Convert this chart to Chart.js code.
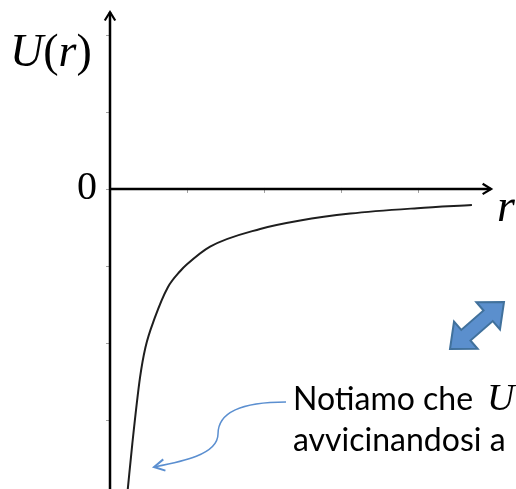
<!DOCTYPE html>
<html lang="en">
<head>
    <meta charset="UTF-8">
    <title>U(r)</title>
    <script src="https://cdn.jsdelivr.net/npm/chart.js"></script>
    <style>
        body {
            margin: 0;
            background: #ffffff;
            overflow: hidden;
        }
        .wrap {
            position: relative;
            width: 516px;
            height: 489px;
            overflow: hidden;
        }
        #potChart {
            position: absolute;
            left: 0;
            top: 0;
        }
        .lbl {
            position: absolute;
            line-height: 1;
            white-space: nowrap;
            color: #000;
        }
        .math {
            font-family: "Liberation Serif", "Times New Roman", serif;
        }
        .note {
            font-family: Lato, "Open Sans", sans-serif;
            font-size: 32px;
        }
        i { font-style: italic; }
    </style>
</head>
<body>
<div class="wrap">
    <canvas id="potChart" width="516" height="489"></canvas>
    <div class="lbl math" style="left:10px; top:28px; font-size:46px;"><i>U</i>(<i>r</i>)</div>
    <div class="lbl math" style="left:77px; top:166px; font-size:40px;">0</div>
    <div class="lbl math" style="left:497px; top:183px; font-size:46px;"><i>r</i></div>
    <div class="lbl note" style="left:293px; top:378px;">Notiamo che<i class="math" style="font-size:38px; line-height:1; margin-left:14px;">U</i></div>
    <div class="lbl note" style="left:293px; top:423px;">avvicinandosi a</div>
</div>

<script>
    // distance r and potential energy U(r), in axis tick units
    var rValues = [0.23, 0.29, 0.39, 0.46, 0.58, 0.75, 0.91, 1.0, 1.3, 1.95, 2.47, 3.12, 3.99, 4.7];
    var uValues = [-3.91, -3.31, -2.45, -2.06, -1.68, -1.28, -1.07, -0.98, -0.75, -0.52, -0.41, -0.32, -0.25, -0.21];

    var xTicks = [1, 2, 3, 4];
    var yTicks = [2, 1, 0, -1, -2, -3];

    var points = rValues.map(function (r, i) { return { x: r, y: uValues[i] }; });

    function chevron(ctx, tipX, tipY, ang, len, spread) {
        ctx.beginPath();
        ctx.moveTo(tipX - len * Math.cos(ang - spread), tipY - len * Math.sin(ang - spread));
        ctx.lineTo(tipX, tipY);
        ctx.lineTo(tipX - len * Math.cos(ang + spread), tipY - len * Math.sin(ang + spread));
        ctx.stroke();
    }

    // axes through the origin, with arrows and small tick marks
    var axesPlugin = {
        id: 'axes',
        beforeDatasetsDraw: function (chart) {
            var ctx = chart.ctx;
            var xs = chart.scales.x, ys = chart.scales.y;
            var x0 = xs.getPixelForValue(0), y0 = ys.getPixelForValue(0);
            var xEnd = xs.getPixelForValue(4.95);
            var yTop = ys.getPixelForValue(2.3);
            var yBot = chart.height;
            ctx.save();

            ctx.strokeStyle = '#a0a0a0';
            ctx.lineWidth = 1;
            xTicks.forEach(function (t) {
                var px = Math.round(xs.getPixelForValue(t)) + 0.5;
                ctx.beginPath();
                ctx.moveTo(px, y0 - 1);
                ctx.lineTo(px, y0 + 4);
                ctx.stroke();
            });
            yTicks.forEach(function (t) {
                var py = Math.round(ys.getPixelForValue(t)) + 0.5;
                ctx.beginPath();
                ctx.moveTo(x0 - 4, py);
                ctx.lineTo(x0 + 1, py);
                ctx.stroke();
            });

            ctx.strokeStyle = '#000';
            ctx.lineWidth = 2.5;
            ctx.lineCap = 'butt';
            ctx.beginPath();
            ctx.moveTo(x0, yBot);
            ctx.lineTo(x0, yTop);
            ctx.moveTo(x0, y0);
            ctx.lineTo(xEnd, y0);
            ctx.stroke();

            ctx.lineWidth = 2.2;
            ctx.lineJoin = 'miter';
            chevron(ctx, x0, yTop, -Math.PI / 2, 10, 0.55);
            chevron(ctx, xEnd, y0, 0, 10, 0.55);
            ctx.restore();
        },
        afterDatasetsDraw: function (chart) {
            var ctx = chart.ctx;
            ctx.save();

            // thin curved pointer
            ctx.strokeStyle = '#5b8fd0';
            ctx.lineWidth = 1.5;
            ctx.beginPath();
            ctx.moveTo(286, 402);
            ctx.bezierCurveTo(236, 402, 218, 415, 218, 434);
            ctx.bezierCurveTo(218, 455, 180, 462, 154, 467);
            ctx.stroke();
            ctx.lineWidth = 2;
            chevron(ctx, 154, 467, Math.atan2(5, -26), 12, 0.5);

            // double block arrow
            var ax = 450, ay = 349, bx = 504, by = 302;
            var L = Math.hypot(bx - ax, by - ay);
            var ang = Math.atan2(by - ay, bx - ax);
            var h = 21, hw = 18, sw = 7;
            ctx.translate(ax, ay);
            ctx.rotate(ang);
            ctx.beginPath();
            ctx.moveTo(0, 0);
            ctx.lineTo(h, -hw);
            ctx.lineTo(h, -sw);
            ctx.lineTo(L - h, -sw);
            ctx.lineTo(L - h, -hw);
            ctx.lineTo(L, 0);
            ctx.lineTo(L - h, hw);
            ctx.lineTo(L - h, sw);
            ctx.lineTo(h, sw);
            ctx.lineTo(h, hw);
            ctx.closePath();
            ctx.fillStyle = '#5b8fcd';
            ctx.fill();
            ctx.strokeStyle = '#41719c';
            ctx.lineWidth = 2;
            ctx.lineJoin = 'miter';
            ctx.stroke();
            ctx.restore();
        }
    };

    var ctx = document.getElementById('potChart').getContext('2d');
    var potChart = new Chart(ctx, {
        type: 'scatter',
        data: {
            datasets: [{
                label: 'U(r)',
                data: points,
                showLine: true,
                borderColor: '#1e1e1e',
                borderWidth: 2,
                pointRadius: 0,
                cubicInterpolationMode: 'monotone',
                fill: false
            }]
        },
        options: {
            responsive: false,
            animation: false,
            layout: { padding: { left: 110, right: 21, top: 12, bottom: 0 } },
            plugins: { legend: { display: false }, tooltip: { enabled: false } },
            scales: {
                x: { type: 'linear', min: 0, max: 5, display: false },
                y: { type: 'linear', min: -3.9, max: 2.3, display: false }
            }
        },
        plugins: [axesPlugin]
    });
</script>
</body>
</html>
